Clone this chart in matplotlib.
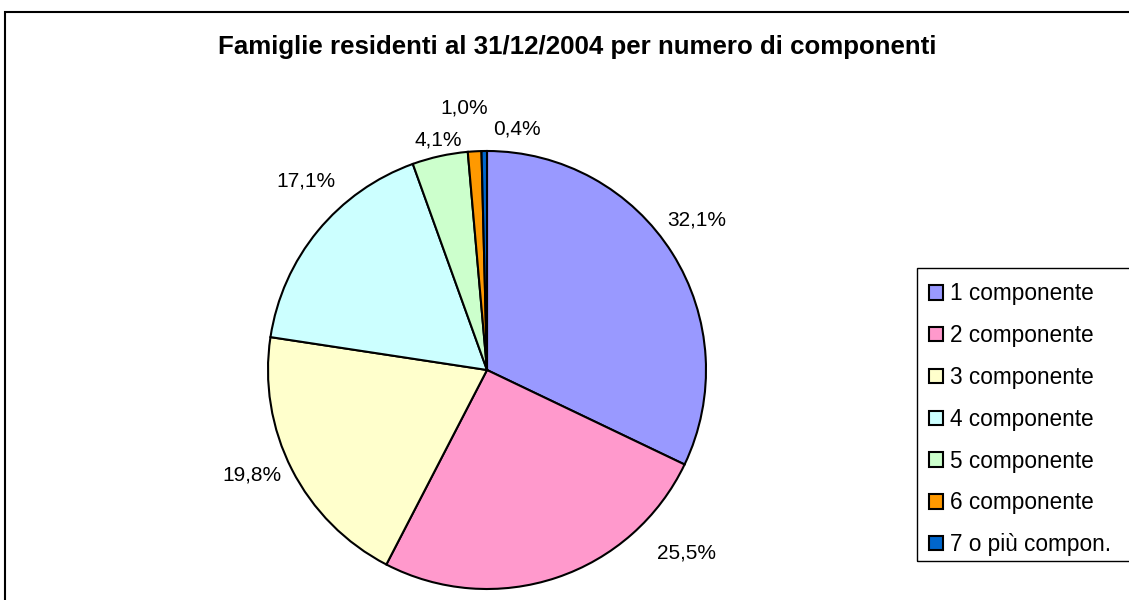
import matplotlib
matplotlib.use("Agg")
import matplotlib.pyplot as plt
from matplotlib.patches import Rectangle

plt.rcParams['font.family'] = ['Liberation Sans', 'DejaVu Sans']

title = "Famiglie residenti al 31/12/2004 per numero di componenti"
categories = ["1 componente", "2 componente", "3 componente", "4 componente",
              "5 componente", "6 componente", "7 o più compon."]
values = [32.1, 25.5, 19.8, 17.1, 4.1, 1.0, 0.4]
value_labels = ["32,1%", "25,5%", "19,8%", "17,1%", "4,1%", "1,0%", "0,4%"]
colors = ["#9999FF", "#FF99CC", "#FFFFCC", "#CCFFFF", "#CCFFCC", "#FF9900", "#0066CC"]
# label positions in pie-radius units
label_pos = [(0.959, 0.685), (0.913, -0.836), (-1.073, -0.479), (-0.826, 0.863),
             (-0.224, 1.050), (-0.105, 1.196), (0.137, 1.100)]

W, H = 1129, 600
fig = plt.figure(figsize=(W / 100, H / 100), dpi=100)

# outer border
fig.patches.append(Rectangle((5 / W, -0.01), 1.2, (H - 12) / H + 0.01,
                             transform=fig.transFigure, fill=False,
                             edgecolor="black", linewidth=1.5))
# legend frame (runs past the right edge as in the original)
fig.patches.append(Rectangle((917 / W, 1 - 561 / H), 0.2, (561 - 268) / H,
                             transform=fig.transFigure, fill=False,
                             edgecolor="black", linewidth=1))

cx, cy, r = 487, 370, 219
ax = fig.add_axes([(cx - r) / W, (H - cy - r) / H, 2 * r / W, 2 * r / H])
wedges, _ = ax.pie(values, colors=colors, startangle=90, counterclock=False,
                   radius=1, wedgeprops=dict(edgecolor="black", linewidth=1.5))
ax.set_xlim(-1, 1)
ax.set_ylim(-1, 1)
ax.set_aspect("auto")
ax.axis("off")
for (x, y), t in zip(label_pos, value_labels):
    ax.text(x, y, t, ha="center", va="center", fontsize=15, clip_on=False)

fig.text(577 / W, 1 - 47 / H, title, ha="center", va="center",
         fontsize=18.6, fontweight="bold")

leg = fig.legend(wedges, categories, loc="upper left",
                 bbox_to_anchor=(917 / W, 1 - 270 / H),
                 fontsize=16.3, frameon=False,
                 handlelength=0.6, handleheight=0.6,
                 handletextpad=0.3, labelspacing=0.83, borderpad=0.55,
                 borderaxespad=0)
for h in leg.legend_handles:
    h.set_linewidth(1.5)

fig.savefig("out.png", dpi=100)
